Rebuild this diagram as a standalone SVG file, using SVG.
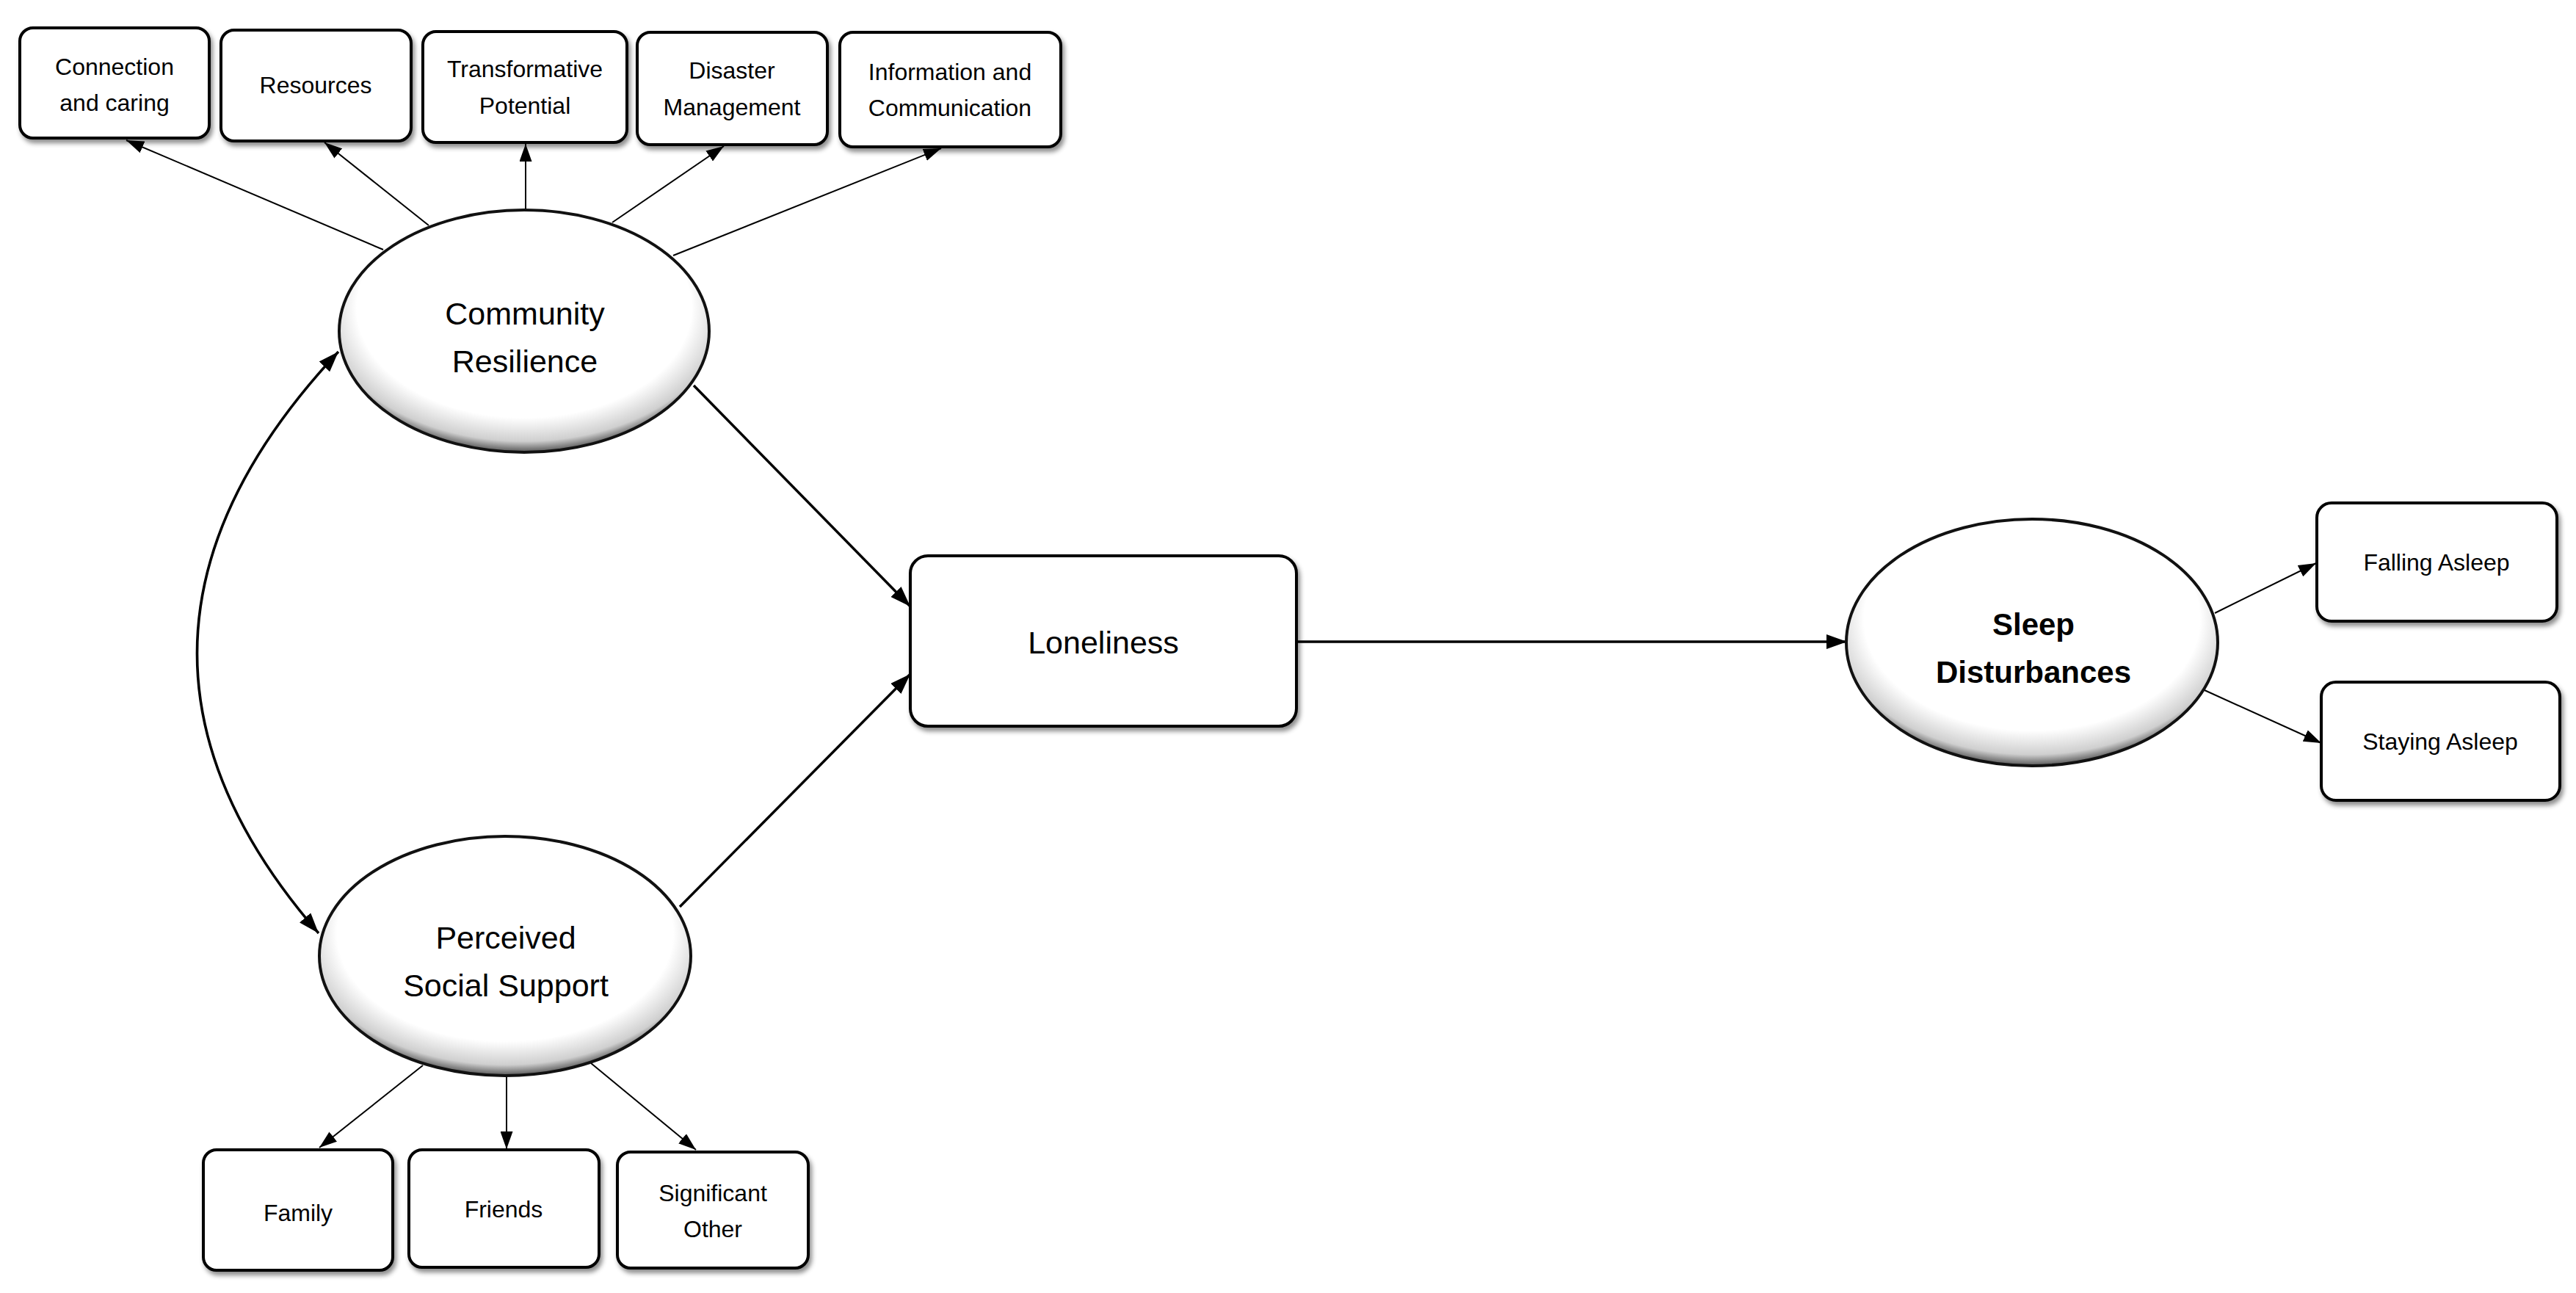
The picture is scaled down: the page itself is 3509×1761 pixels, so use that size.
<svg xmlns="http://www.w3.org/2000/svg" width="3509" height="1761" viewBox="0 0 3509 1761">
<style>
.box{fill:#fff;stroke:#000;stroke-width:4;filter:url(#sh)}
.ell{fill:url(#eg);stroke:#111;stroke-width:4}
.t{font-family:"Liberation Sans",Arial,sans-serif;font-size:32px;fill:#000;text-anchor:middle;dominant-baseline:central}
.tb{font-family:"Liberation Sans",Arial,sans-serif;font-size:43px;fill:#000;text-anchor:middle;dominant-baseline:central}
.bold{font-weight:bold;font-size:42px}
.thin{fill:none;stroke:#000;stroke-width:2;marker-end:url(#a1)}
.thick{fill:none;stroke:#000;stroke-width:3.5;marker-end:url(#a2)}
</style>
<defs>
<radialGradient id="eg" cx="50%" cy="42%" r="58%" fx="50%" fy="35%">
<stop offset="0" stop-color="#fff"/>
<stop offset="0.78" stop-color="#fff"/>
<stop offset="0.93" stop-color="#cfcfcf"/>
<stop offset="1" stop-color="#555"/>
</radialGradient>
<filter id="sh" x="-10%" y="-10%" width="125%" height="130%">
<feDropShadow dx="3" dy="5" stdDeviation="3" flood-color="#000" flood-opacity="0.45"/>
</filter>
<marker id="a1" markerUnits="userSpaceOnUse" markerWidth="24" markerHeight="17" refX="24" refY="8.5" orient="auto-start-reverse">
<path d="M0,0 L24,8.5 L0,17 z" fill="#000"/>
</marker>
<marker id="a2" markerUnits="userSpaceOnUse" markerWidth="28" markerHeight="20" refX="28" refY="10" orient="auto-start-reverse">
<path d="M0,0 L28,10 L0,20 z" fill="#000"/>
</marker>
</defs>
<rect width="3509" height="1761" fill="#fff"/>

<g id="connectors">
<line class="thin" x1="522" y1="340" x2="172" y2="191"/>
<line class="thin" x1="584" y1="307" x2="442" y2="194"/>
<line class="thin" x1="716" y1="286" x2="716" y2="196"/>
<line class="thin" x1="834" y1="303" x2="986" y2="199"/>
<line class="thin" x1="917" y1="348" x2="1282" y2="202"/>
<line class="thick" x1="945" y1="525" x2="1240" y2="826"/>
<line class="thick" x1="926" y1="1235" x2="1240" y2="918"/>
<path class="thick" d="M461,479 Q90,875 434,1271" style="marker-start:url(#a2)"/>
<line class="thick" x1="1766" y1="874" x2="2516" y2="874"/>
<line class="thin" x1="3017" y1="835" x2="3155" y2="767"/>
<line class="thin" x1="3003" y1="940" x2="3162" y2="1012"/>
<line class="thin" x1="576" y1="1451" x2="435" y2="1563"/>
<line class="thin" x1="690" y1="1466" x2="690" y2="1565"/>
<line class="thin" x1="805" y1="1448" x2="948" y2="1566"/>
</g>

<g id="n-connection">
<rect class="box" x="27" y="38" width="258" height="150" rx="18"/>
<text class="t" x="156" y="91">Connection</text>
<text class="t" x="156" y="140">and caring</text>
</g>
<g id="n-resources">
<rect class="box" x="301" y="41" width="259" height="151" rx="18"/>
<text class="t" x="430" y="116">Resources</text>
</g>
<g id="n-transformative">
<rect class="box" x="576" y="43" width="278" height="151" rx="18"/>
<text class="t" x="715" y="94">Transformative</text>
<text class="t" x="715" y="144">Potential</text>
</g>
<g id="n-disaster">
<rect class="box" x="868" y="44" width="259" height="153" rx="18"/>
<text class="t" x="997" y="96">Disaster</text>
<text class="t" x="997" y="146">Management</text>
</g>
<g id="n-information">
<rect class="box" x="1144" y="44" width="301" height="156" rx="18"/>
<text class="t" x="1294" y="98">Information and</text>
<text class="t" x="1294" y="147">Communication</text>
</g>

<g id="n-community">
<ellipse class="ell" cx="714" cy="451" rx="252" ry="165"/>
<text class="tb" x="715" y="427">Community</text>
<text class="tb" x="715" y="492">Resilience</text>
</g>

<g id="n-perceived">
<ellipse class="ell" cx="688" cy="1302" rx="253" ry="163"/>
<text class="tb" x="689" y="1277">Perceived</text>
<text class="tb" x="689" y="1342">Social Support</text>
</g>

<g id="n-loneliness">
<rect class="box" x="1240" y="757" width="526" height="232" rx="24"/>
<text class="tb" x="1503" y="875">Loneliness</text>
</g>

<g id="n-sleep">
<ellipse class="ell" cx="2768" cy="875" rx="253" ry="168"/>
<text class="tb bold" x="2770" y="850">Sleep</text>
<text class="tb bold" x="2770" y="915">Disturbances</text>
</g>

<g id="n-falling">
<rect class="box" x="3156" y="685" width="327" height="161" rx="20"/>
<text class="t" x="3319" y="766">Falling Asleep</text>
</g>
<g id="n-staying">
<rect class="box" x="3162" y="929" width="325" height="161" rx="20"/>
<text class="t" x="3324" y="1010">Staying Asleep</text>
</g>

<g id="n-family">
<rect class="box" x="277" y="1566" width="258" height="164" rx="18"/>
<text class="t" x="406" y="1652">Family</text>
</g>
<g id="n-friends">
<rect class="box" x="557" y="1566" width="259" height="160" rx="18"/>
<text class="t" x="686" y="1647">Friends</text>
</g>
<g id="n-significant">
<rect class="box" x="841" y="1569" width="260" height="158" rx="18"/>
<text class="t" x="971" y="1625">Significant</text>
<text class="t" x="971" y="1674">Other</text>
</g>
</svg>
